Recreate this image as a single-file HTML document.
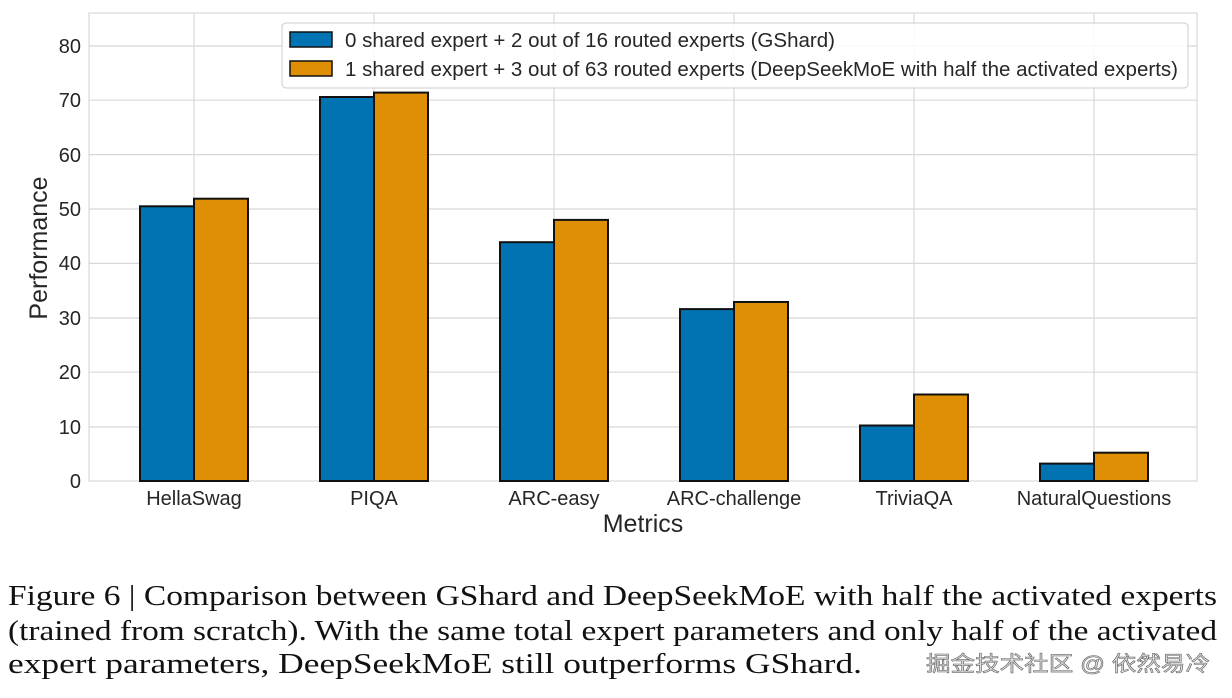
<!DOCTYPE html>
<html><head><meta charset="utf-8"><style>
body{margin:0;width:1232px;height:698px;background:#fff;overflow:hidden;position:relative}
</style></head><body>
<svg width="1232" height="698" style="position:absolute;left:0;top:0" font-family="Liberation Sans, sans-serif">
<g stroke="#d8d8d8" stroke-width="1.2">
<line x1="89" x2="1197" y1="427" y2="427"/><line x1="89" x2="1197" y1="372.2" y2="372.2"/><line x1="89" x2="1197" y1="318" y2="318"/><line x1="89" x2="1197" y1="263.4" y2="263.4"/><line x1="89" x2="1197" y1="209" y2="209"/><line x1="89" x2="1197" y1="154.6" y2="154.6"/><line x1="89" x2="1197" y1="100.2" y2="100.2"/><line x1="89" x2="1197" y1="46" y2="46"/>
<line x1="194" x2="194" y1="13" y2="481"/><line x1="374" x2="374" y1="13" y2="481"/><line x1="554" x2="554" y1="13" y2="481"/><line x1="734" x2="734" y1="13" y2="481"/><line x1="914" x2="914" y1="13" y2="481"/><line x1="1094" x2="1094" y1="13" y2="481"/>
<rect x="89" y="13" width="1108" height="468" fill="none"/>
</g>
<g stroke="#111" stroke-width="2">
<rect x="140" y="206.3" width="54" height="274.7" fill="#0173b2"/><rect x="194" y="198.7" width="54" height="282.3" fill="#de8f05"/>
<rect x="320" y="97" width="54" height="384" fill="#0173b2"/><rect x="374" y="92.6" width="54" height="388.4" fill="#de8f05"/>
<rect x="500" y="242.2" width="54" height="238.8" fill="#0173b2"/><rect x="554" y="219.9" width="54" height="261.1" fill="#de8f05"/>
<rect x="680" y="309.1" width="54" height="171.9" fill="#0173b2"/><rect x="734" y="302" width="54" height="179" fill="#de8f05"/>
<rect x="860" y="425.5" width="54" height="55.5" fill="#0173b2"/><rect x="914" y="394.5" width="54" height="86.5" fill="#de8f05"/>
<rect x="1040" y="463.6" width="54" height="17.4" fill="#0173b2"/><rect x="1094" y="452.7" width="54" height="28.3" fill="#de8f05"/>
</g>
<g font-size="20" fill="#262626" text-anchor="end">
<text x="81" y="488">0</text><text x="81" y="434">10</text><text x="81" y="379">20</text><text x="81" y="325">30</text><text x="81" y="270">40</text><text x="81" y="216">50</text><text x="81" y="162">60</text><text x="81" y="107">70</text><text x="81" y="53">80</text>
</g>
<g font-size="20" fill="#262626" text-anchor="middle">
<text x="194" y="505">HellaSwag</text><text x="374" y="505">PIQA</text><text x="554" y="505">ARC-easy</text><text x="734" y="505">ARC-challenge</text><text x="914" y="505">TriviaQA</text><text x="1094" y="505">NaturalQuestions</text>
<text x="643" y="532" font-size="25">Metrics</text>
<text transform="translate(47,248) rotate(-90)" font-size="25">Performance</text>
</g>
<rect x="282" y="23" width="906" height="65" rx="4" fill="#fff" fill-opacity="0.85" stroke="#ccc"/>
<rect x="290" y="32" width="42" height="15" fill="#0173b2" stroke="#111" stroke-width="1.5"/>
<rect x="290" y="61" width="42" height="15" fill="#de8f05" stroke="#111" stroke-width="1.5"/>
<g font-size="20" fill="#262626">
<text x="345" y="47" textLength="490" lengthAdjust="spacingAndGlyphs">0 shared expert + 2 out of 16 routed experts (GShard)</text>
<text x="345" y="76" textLength="833" lengthAdjust="spacingAndGlyphs">1 shared expert + 3 out of 63 routed experts (DeepSeekMoE with half the activated experts)</text>
</g>
<g font-family="Liberation Serif, serif" font-size="28" fill="#111">
<text x="8" y="605" textLength="1209" lengthAdjust="spacingAndGlyphs">Figure 6 | Comparison between GShard and DeepSeekMoE with half the activated experts</text>
<text x="8" y="640" textLength="1209" lengthAdjust="spacingAndGlyphs">(trained from scratch). With the same total expert parameters and only half of the activated</text>
<text x="8" y="673" textLength="854" lengthAdjust="spacingAndGlyphs">expert parameters, DeepSeekMoE still outperforms GShard.</text>
</g>
<text x="926" y="671" font-family="Liberation Sans, Noto Sans CJK SC, sans-serif" font-size="21" fill="#ddd" stroke="#666" stroke-width="0.6" textLength="284" lengthAdjust="spacingAndGlyphs">掘金技术社区 @ 依然易冷</text>
</svg>
</body></html>
